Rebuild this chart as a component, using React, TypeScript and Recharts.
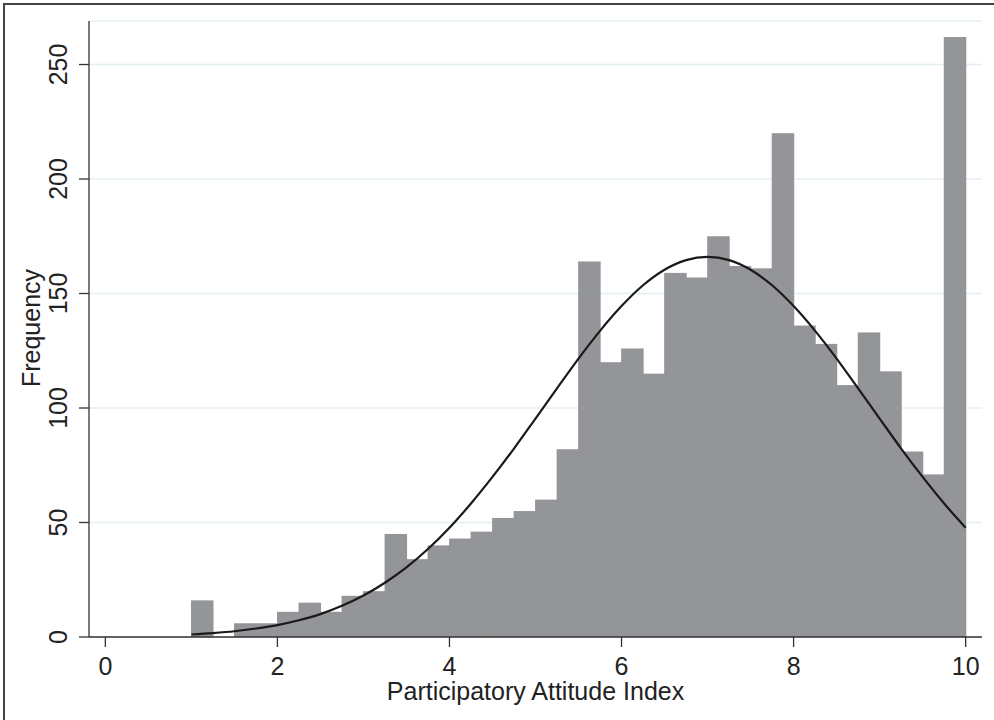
import React from 'react';
import {
  ComposedChart,
  Bar,
  Line,
  XAxis,
  YAxis,
  CartesianGrid,
} from 'recharts';

// histogram bins (left edges), width 0.25
const binWidth = 0.25;
const binStarts = [
  1, 1.25, 1.5, 1.75, 2, 2.25, 2.5, 2.75, 3, 3.25, 3.5, 3.75,
  4, 4.25, 4.5, 4.75, 5, 5.25, 5.5, 5.75, 6, 6.25, 6.5, 6.75,
  7, 7.25, 7.5, 7.75, 8, 8.25, 8.5, 8.75, 9, 9.25, 9.5, 9.75,
];
const frequency = [
  16, 0, 6, 6, 11, 15, 11, 18, 20, 45, 34, 40,
  43, 46, 52, 55, 60, 82, 164, 120, 126, 115, 159, 157,
  175, 162, 161, 220, 136, 128, 110, 133, 116, 81, 71, 262,
];

// normal density overlay
const curveX = [
  1, 1.25, 1.5, 1.75, 2, 2.25, 2.5, 2.75, 3, 3.25, 3.5, 3.75, 4,
  4.25, 4.5, 4.75, 5, 5.25, 5.5, 5.75, 6, 6.25, 6.5, 6.75, 7,
  7.25, 7.5, 7.75, 8, 8.25, 8.5, 8.75, 9, 9.25, 9.5, 9.75, 10,
];
const curveY = [
  1.1, 1.7, 2.5, 3.7, 5.2, 7.3, 10, 13.6, 18.1, 23.7, 30.4, 38.4, 47.7,
  58.3, 69.9, 82.3, 95.4, 108.6, 121.6, 133.7, 144.5, 153.6, 160.4, 164.6, 166,
  164.6, 160.4, 153.6, 144.5, 133.7, 121.6, 108.6, 95.4, 82.3, 69.9, 58.3, 47.7,
];

const xTicks = [0, 2, 4, 6, 8, 10];
const yTicks = [0, 50, 100, 150, 200, 250];

const W = 994;
const H = 720;
const margin = { top: 21, right: 12, bottom: 0, left: 0 };
const yAxisW = 89;
const xAxisH = 83;
const xDomain: [number, number] = [-0.19, 10.19];
const yDomain: [number, number] = [0, 269];

// width of one bin in pixels, from the x scale
const plotW = W - margin.left - margin.right - yAxisW;
const binPx = (plotW / (xDomain[1] - xDomain[0])) * binWidth;

const barRows = binStarts.map((s, i) => ({ x: s + binWidth / 2, freq: frequency[i] }));
const curveRows = curveX.map((x, i) => ({ x, curve: curveY[i] }));

const FONT = '"Liberation Sans", Arial, sans-serif';
const INK = '#222';

// full-width histogram bar centred on recharts' own bar position
const HistBar = (props: any) => {
  const { x, y, width, height, fill } = props;
  if (!height || height <= 0) return null;
  const cx = x + width / 2;
  return (
    <rect
      x={cx - binPx / 2 - 0.5}
      y={y}
      width={binPx + 1}
      height={height}
      fill={fill}
    />
  );
};

const YTick = (props: any) => {
  const { y, payload } = props;
  const bx = 67;
  return (
    <text
      x={bx}
      y={y}
      transform={`rotate(-90, ${bx}, ${y})`}
      textAnchor="middle"
      fontSize={25}
      fontFamily={FONT}
      fill={INK}
    >
      {payload.value}
    </text>
  );
};

const YTitle = (props: any) => {
  const vb = props.viewBox || { y: 21, height: 616 };
  const bx = 40;
  const cy = vb.y + vb.height / 2 - 1;
  return (
    <text
      x={bx}
      y={cy}
      transform={`rotate(-90, ${bx}, ${cy})`}
      textAnchor="middle"
      fontSize={25}
      fontFamily={FONT}
      fill={INK}
    >
      Frequency
    </text>
  );
};

const XTitle = (props: any) => {
  const vb = props.viewBox || { x: 89, width: 893 };
  return (
    <text
      x={vb.x + vb.width / 2}
      y={700}
      textAnchor="middle"
      fontSize={25}
      fontFamily={FONT}
      fill={INK}
    >
      Participatory Attitude Index
    </text>
  );
};

export default function App() {
  return (
    <div
      style={{
        position: 'absolute',
        left: 0,
        top: 0,
        width: W,
        height: H,
        overflow: 'hidden',
        background: '#fff',
      }}
    >
      <div
        style={{
          position: 'absolute',
          left: 3,
          top: 3,
          width: W + 20,
          height: H + 20,
          border: '2px solid #444',
        }}
      />
      <div style={{ position: 'absolute', left: 0, top: 0 }}>
        <ComposedChart
          width={W}
          height={H}
          data={barRows}
          margin={margin}
          barCategoryGap={0}
          barGap={0}
        >
          <CartesianGrid
            horizontal
            vertical={false}
            stroke="#e4eff1"
            strokeWidth={1.6}
          />
          <XAxis
            type="number"
            dataKey="x"
            domain={xDomain}
            ticks={xTicks}
            allowDataOverflow
            height={xAxisH}
            tickSize={10}
            tickMargin={10}
            stroke="#333"
            strokeWidth={1.3}
            tick={{ fontSize: 25, fontFamily: FONT, fill: INK }}
            label={<XTitle />}
          />
          <YAxis
            type="number"
            domain={yDomain}
            ticks={yTicks}
            allowDataOverflow
            width={yAxisW}
            tickSize={10}
            stroke="#333"
            strokeWidth={1.3}
            tick={<YTick />}
            label={<YTitle />}
          />
          <Bar
            dataKey="freq"
            fill="#939598"
            shape={<HistBar />}
            isAnimationActive={false}
          />
          <Line
            data={curveRows}
            dataKey="curve"
            type="monotone"
            stroke="#1a1a1a"
            strokeWidth={2.2}
            dot={false}
            isAnimationActive={false}
          />
        </ComposedChart>
      </div>
    </div>
  );
}
